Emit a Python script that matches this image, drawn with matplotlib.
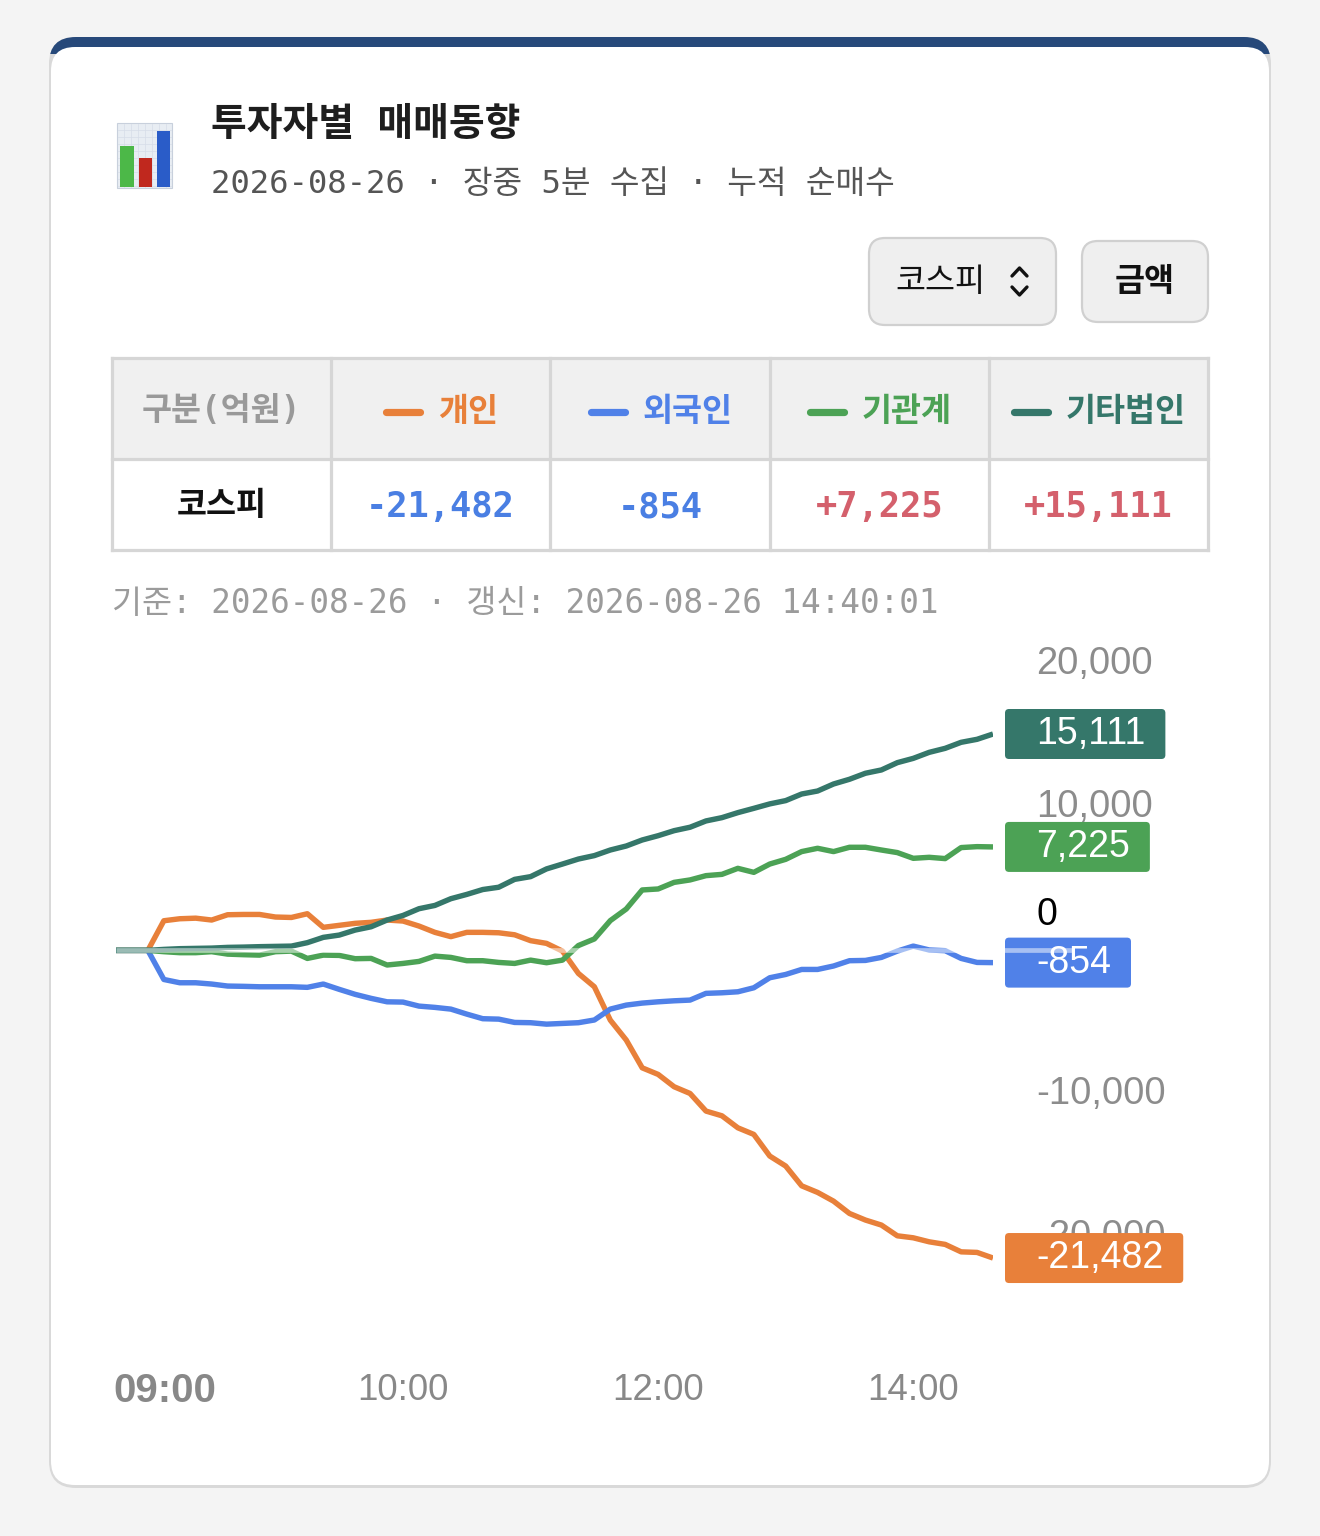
import numpy as np
import matplotlib
matplotlib.use("Agg")
import matplotlib.pyplot as plt
from matplotlib.patches import FancyBboxPatch, Rectangle
from matplotlib.transforms import blended_transform_factory

# ---------------- data ----------------
tick_positions = [3, 18, 34, 50]
tick_labels = ["09:00", "10:00", "12:00", "14:00"]

individual = [0, 0, 0, 2070, 2210, 2250, 2120, 2490, 2510, 2510, 2330, 2300, 2560,
              1610, 1750, 1890, 1960, 2120, 2050, 1700, 1260, 960, 1260,
              1260, 1230, 1090, 680, 490, -50, -1610, -2540, -4870, -6260,
              -8200, -8660, -9520, -9990, -11220, -11550, -12390, -12850, -14360, -15060,
              -16440, -16900, -17510, -18370, -18830, -19180, -19930, -20070, -20350, -20530,
              -21050, -21090, -21482]
foreign = [0, 0, 0, -2030, -2260, -2260, -2350, -2490, -2510, -2540, -2540, -2540, -2580,
           -2350, -2720, -3070, -3350, -3590, -3610, -3890, -3980, -4100, -4450,
           -4770, -4800, -5030, -5050, -5150, -5100, -5050, -4860, -4100, -3820,
           -3680, -3590, -3520, -3470, -3000, -2960, -2890, -2610, -1910, -1680,
           -1330, -1330, -1090, -720, -700, -490, -50, 300, 30, -20,
           -560, -840, -854]
institution = [0, 0, 0, -90, -160, -160, -90, -260, -300, -330, -90, -50, -560,
               -330, -350, -580, -560, -1020, -910, -770, -400, -490, -720,
               -720, -840, -910, -680, -860, -680, 340, 800, 2080, 2890,
               4220, 4290, 4750, 4920, 5220, 5310, 5730, 5450, 6030, 6360,
               6900, 7130, 6900, 7200, 7200, 7010, 6830, 6430, 6500, 6410,
               7180, 7245, 7225]
other_corp = [0, 0, 0, 70, 120, 140, 160, 210, 230, 260, 280, 300, 540,
              910, 1070, 1420, 1650, 2120, 2440, 2910, 3140, 3610, 3910,
              4250, 4410, 4960, 5150, 5690, 6030, 6380, 6620, 7010, 7290,
              7710, 8010, 8360, 8600, 9040, 9270, 9620, 9920, 10230, 10460,
              10920, 11130, 11620, 11950, 12370, 12600, 13110, 13410, 13830, 14110,
              14530, 14740, 15111]

series_names = ["개인", "외국인", "기관계", "기타법인"]
series_values = [individual, foreign, institution, other_corp]
series_colors = ["#e8803a", "#5081e8", "#4ca255", "#35776a"]
latest_values = [-21482, -854, 7225, 15111]
y_ticks = [20000, 10000, -10000, -20000]

row_label = "코스피"
title = "투자자별 매매동향"
subtitle = "2026-08-26 · 장중 5분 수집 · 누적 순매수"
stamp = "기준: 2026-08-26 · 갱신: 2026-08-26 14:40:01"

MONO_KR = ["DejaVu Sans Mono", "Noto Sans CJK KR"]
KR = ["Noto Sans CJK KR", "DejaVu Sans"]
SANS = ["Liberation Sans", "DejaVu Sans"]

W, H = 1320, 1536
fig = plt.figure(figsize=(W / 100, H / 100), dpi=100)
fig.patch.set_facecolor("#f4f4f4")

ov = fig.add_axes([0, 0, 1, 1])
ov.set_xlim(0, W)
ov.set_ylim(H, 0)
ov.axis("off")
ov.set_zorder(0)

# ---------------- card ----------------
ov.add_patch(FancyBboxPatch((49, 37), 1222, 1451, boxstyle="round,pad=0,rounding_size=27",
                            fc="#d9d9d9", ec="none", zorder=1))
blue = FancyBboxPatch((49, 37), 1222, 1451, boxstyle="round,pad=0,rounding_size=27",
                      fc="#27497a", ec="none", zorder=1.1)
ov.add_patch(blue)
clip_rect = Rectangle((0, 30), W, 24, transform=ov.transData)
blue.set_clip_path(clip_rect)
ov.add_patch(FancyBboxPatch((51, 47), 1218, 1438, boxstyle="round,pad=0,rounding_size=24",
                            fc="white", ec="none", zorder=1.2))

# icon
ov.add_patch(Rectangle((117, 123), 55, 65, fc="#e8edf3", ec="#c8d0dc", lw=0.8, zorder=1.3))
for gx in np.arange(124, 172, 7):
    ov.plot([gx, gx], [124, 187], color="#d6dde8", lw=0.5, zorder=1.35)
for gy in np.arange(130, 188, 7):
    ov.plot([118, 171], [gy, gy], color="#d6dde8", lw=0.5, zorder=1.35)
ov.add_patch(Rectangle((120, 146), 14, 41, fc="#4cb848", ec="none", zorder=1.4))
ov.add_patch(Rectangle((139, 158), 13, 29, fc="#c0281e", ec="none", zorder=1.4))
ov.add_patch(Rectangle((157, 131), 13, 56, fc="#2a5cc8", ec="none", zorder=1.4))

ov.text(211, 125, title, fontsize=28, weight="bold", family=MONO_KR, va="center",
        ha="left", color="#1e1e1e")
ov.text(211, 184, subtitle, fontsize=23.2, family=MONO_KR, va="center", ha="left",
        color="#555555")

# buttons
ov.add_patch(FancyBboxPatch((869, 238), 187, 87, boxstyle="round,pad=0,rounding_size=16",
                            fc="#efefef", ec="#d0d0d0", lw=1.6, zorder=1.3))
ov.text(895, 282, row_label, fontsize=23.5, family=KR, va="center", ha="left", color="#111")
ov.plot([1012, 1019.5, 1027], [276, 268, 276], color="#111", lw=2.4, solid_capstyle="round")
ov.plot([1012, 1019.5, 1027], [287, 295, 287], color="#111", lw=2.4, solid_capstyle="round")
ov.add_patch(FancyBboxPatch((1082, 241), 126, 81, boxstyle="round,pad=0,rounding_size=16",
                            fc="#efefef", ec="#d0d0d0", lw=1.6, zorder=1.3))
ov.text(1145, 282, "금액", fontsize=23.5, weight="bold", family=KR, va="center", ha="center",
        color="#111")

# table
col_edges = [112, 331, 550, 770, 989, 1208]
row_edges = [358, 459, 550]
ov.add_patch(Rectangle((112, 358), 1096, 101, fc="#f0f0f0", ec="none", zorder=1.3))
for yy in row_edges:
    ov.plot([112, 1208], [yy, yy], color="#d6d6d6", lw=2.3, solid_capstyle="projecting")
for xx in col_edges:
    ov.plot([xx, xx], [358, 550], color="#d6d6d6", lw=2.3, solid_capstyle="projecting")
centers = [(col_edges[i] + col_edges[i + 1]) / 2 for i in range(5)]
ov.text(centers[0], 410, "구분(억원)", fontsize=23.5, family=MONO_KR, va="center", ha="center",
        color="#999999", weight="bold")
ov.text(centers[0], 505, row_label, fontsize=23.5, family=KR, va="center", ha="center",
        color="#111", weight="bold")

header_texts = []
for i, (name, col) in enumerate(zip(series_names, series_colors)):
    t = ov.text(0, 412, name, fontsize=23.5, family=KR, weight="bold", va="center",
                ha="left", color=col)
    header_texts.append(t)

for i, v in enumerate(latest_values):
    col = "#4a7fe3" if v < 0 else "#d4606c"
    ov.text(centers[i + 1], 507, f"{v:+,}", fontsize=25.5, family=MONO_KR, weight="bold",
            va="center", ha="center", color=col)

ov.text(112, 604, stamp, fontsize=23.5, family=MONO_KR, va="center", ha="left",
        color="#9b9b9b")

# ---------------- chart ----------------
x = np.arange(len(individual))
ax = fig.add_axes([116 / W, 1 - 1340 / H, 877 / W, 700 / H])
ax.set_zorder(2)
ax.patch.set_alpha(0)
ax.set_xlim(0, len(individual) - 1)
ax.set_ylim(-27206, 21675)
for s in ax.spines.values():
    s.set_visible(False)
ax.set_xticks([])
ax.set_yticks([])

for vals, col in zip(series_values, series_colors):
    ax.plot(x, vals, color=col, lw=3.9, solid_joinstyle="round", solid_capstyle="butt",
            zorder=3)

ax.plot([0, 60], [0, 0], color="white", alpha=0.5, lw=3.4, clip_on=False, zorder=8,
        solid_capstyle="butt")

ytr = blended_transform_factory(ov.transData, ax.transData)
for v in y_ticks:
    ax.text(1036, v, f"{v:,}", transform=ytr, ha="left", va="center", fontsize=27.5,
            family=SANS, color="#8c8c8c", clip_on=False, zorder=2)
ax.annotate("0", xy=(1036, 0), xycoords=ytr, xytext=(0, 25.5), textcoords="offset points",
            ha="left", va="center", fontsize=27, family=SANS, color="black",
            annotation_clip=False, zorder=2)

value_texts = []
for v, col in zip(latest_values, series_colors):
    t = ax.text(1036, v, f"{v:,}", transform=ytr, ha="left", va="center", fontsize=27,
                family=SANS, color="white", clip_on=False, zorder=7)
    value_texts.append((t, v, col))

xtr = blended_transform_factory(ax.transData, ov.transData)
for i, (pos, lbl) in enumerate(zip(tick_positions, tick_labels)):
    if i == 0:
        ax.annotate(lbl, xy=(0, 1391), xycoords=xtr, xytext=(-2, 0),
                    textcoords="offset points", ha="left", va="center", fontsize=29,
                    family=SANS, weight="bold", color="#888888", annotation_clip=False)
    else:
        ax.text(pos, 1391, lbl, transform=xtr, ha="center", va="center", fontsize=26.5,
                family=SANS, color="#888888", clip_on=False)

# ---------- layout pass: measure texts ----------
fig.canvas.draw()
r = fig.canvas.get_renderer()
inv = ov.transData.inverted()

for i, t in enumerate(header_texts):
    bb = t.get_window_extent(r)
    w = bb.width
    dash_len, gap = 40, 15
    group = dash_len + gap + w
    x0 = centers[i + 1] - group / 2
    t.set_x(x0 + dash_len + gap)
    ov.plot([x0 + 3, x0 + dash_len - 3], [412, 412], color=series_colors[i], lw=5.2,
            solid_capstyle="round")

for t, v, col in value_texts:
    bb = t.get_window_extent(r)
    x1 = inv.transform((bb.x1, 0))[0]
    yc = H - ax.transData.transform((0, v))[1]
    ax.add_patch(FancyBboxPatch((1005, yc - 25), x1 + 20 - 1005, 50,
                                boxstyle="round,pad=0,rounding_size=4", fc=col, ec="none",
                                transform=ov.transData, clip_on=False, zorder=6))

fig.savefig("out.png", dpi=100, facecolor=fig.get_facecolor())
